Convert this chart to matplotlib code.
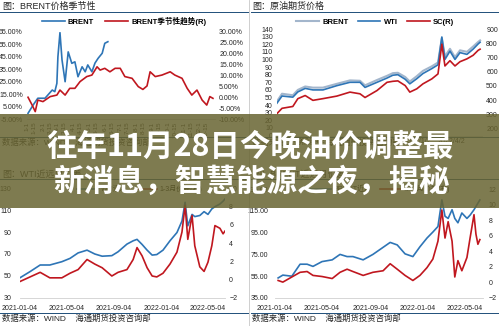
import matplotlib
matplotlib.use('Agg')
import matplotlib.pyplot as plt
import matplotlib.dates as mdates
import matplotlib.ticker as mticker
import pandas as pd
from matplotlib.patches import Rectangle

plt.rcParams['font.family'] = ['Liberation Sans', 'Noto Sans CJK SC']

W, H = 499, 326

# ---- top left: BRENT seasonality (month-day on a dummy year) ----
brent_season_md = ['01-03', '01-13', '01-22', '02-05', '02-19', '02-24', '02-28', '03-02',
                   '03-06', '03-10', '03-16', '03-22', '03-29', '04-04', '04-10', '04-18',
                   '04-24', '04-29', '05-07', '05-13', '05-19', '05-27', '06-01', '06-07']
brent_season = [-0.4, 6.3, 11.7, 11.7, 18.3, 17.0, 23.7, 45.0,
                64.5, 42.5, 25.0, 49.0, 39.8, 41.0, 29.0, 37.0,
                33.0, 38.5, 33.0, 40.0, 43.8, 47.9, 55.9, 57.2]
trend_md = ['01-03', '01-11', '01-17', '01-22', '02-01', '02-15', '02-28', '03-06', '03-16',
            '03-25', '04-04', '04-14', '04-27', '05-07', '05-17', '05-23', '06-01', '06-11',
            '06-21', '07-01', '07-10', '07-24', '08-05', '08-14', '08-22', '08-28', '09-07',
            '09-20', '10-06', '10-15', '10-29', '11-08', '11-17', '11-27', '12-07', '12-16',
            '12-22', '12-28']
trend = [0.0, -3.6, -6.6, -1.3, -2.0, 0.3, 1.0, 3.3, 1.0,
         4.1, 4.1, 7.2, 9.5, 10.2, 14.0, 12.5, 13.3, 11.7,
         13.3, 13.3, 9.5, 8.7, 4.9, 3.6, 5.2, 11.7, 9.5,
         10.2, 11.7, 10.2, 8.7, 4.1, 1.0, 3.3, -1.3, -3.6,
         0.3, -0.5]
season_ticks = ['01-01', '01-15', '02-01', '02-15', '03-01', '03-15', '04-01', '04-15',
                '05-01', '05-15', '06-01', '06-15', '07-01', '07-15', '08-01', '08-15',
                '09-01', '09-15', '10-01', '10-15', '11-01', '11-15', '12-01', '12-15']

# ---- top right: crude futures prices ----
fut_dates = ['2021-01-04', '2021-01-17', '2021-02-14', '2021-02-27', '2021-03-18', '2021-04-07',
             '2021-05-03', '2021-06-08', '2021-07-12', '2021-08-07', '2021-08-20', '2021-09-20',
             '2021-10-16', '2021-10-31', '2021-11-13', '2021-12-02', '2021-12-14', '2022-01-01',
             '2022-01-17', '2022-02-09', '2022-02-25', '2022-03-07', '2022-03-15', '2022-03-28',
             '2022-04-10', '2022-04-23', '2022-05-11', '2022-05-27', '2022-06-09', '2022-06-14']
brent_fut = [45.0, 55.0, 53.0, 60.0, 64.5, 63.0, 63.0, 68.0, 72.5, 72.0, 66.0, 73.0,
             78.5, 82.0, 82.5, 77.0, 71.0, 78.0, 85.0, 91.0, 96.0, 128.0, 104.0, 114.0,
             103.0, 112.0, 110.0, 117.0, 123.0, 125.0]
wti_fut = [42.7, 52.0, 50.5, 57.4, 62.0, 60.0, 60.0, 65.6, 70.0, 70.0, 63.3, 70.0,
           75.6, 79.3, 80.0, 74.0, 68.0, 74.7, 81.5, 88.0, 93.0, 129.5, 100.0, 111.0,
           100.0, 109.0, 106.7, 113.6, 120.4, 122.6]
sc_fut = [305, 342, 355, 410, 432, 398, 410, 428, 456, 444, 418, 467,
          525, 532, 535, 502, 456, 479, 514, 549, 584, 793, 640, 677,
          640, 670, 690, 715, 750, 758]

# ---- bottom left: WTI near/far ----
wti_dates = ['2021-01-04', '2021-01-30', '2021-02-25', '2021-03-22', '2021-04-22', '2021-05-13',
             '2021-06-03', '2021-06-26', '2021-07-16', '2021-08-04', '2021-08-29', '2021-09-14',
             '2021-10-07', '2021-10-23', '2021-11-02', '2021-11-15', '2021-11-28', '2021-12-11',
             '2021-12-23', '2022-01-08', '2022-01-26', '2022-02-13', '2022-02-26', '2022-03-06',
             '2022-03-13', '2022-03-24', '2022-03-31', '2022-04-13', '2022-04-24', '2022-05-04',
             '2022-05-14', '2022-05-22', '2022-06-04', '2022-06-12', '2022-06-17']
wti_near = [48.4, 54.0, 60.0, 60.0, 63.0, 66.0, 71.0, 73.5, 70.0, 68.0, 68.5, 72.0,
            79.0, 82.0, 83.3, 78.7, 73.5, 69.0, 69.5, 73.5, 82.0, 89.5, 100.0, 117.0,
            95.6, 106.0, 104.0, 105.0, 108.5, 106.0, 111.0, 113.0, 115.5, 118.0, 120.0]
wti_spread = [-0.2, 0.3, 0.8, 0.2, 0.2, 0.7, 1.1, 2.2, 1.7, 1.3, 0.4, 0.8,
              1.1, 2.2, 3.5, 2.6, 1.3, 0.4, 0.3, 0.7, 1.7, 3.0, 5.2, 8.1,
              4.4, 7.0, 3.7, 1.4, 0.9, 1.9, 3.7, 5.9, 5.6, 5.0, 5.3]

# ---- bottom right: BRENT near/far ----
br_dates = ['2021-01-12', '2021-01-24', '2021-02-16', '2021-03-09', '2021-03-27', '2021-04-11',
            '2021-05-04', '2021-05-30', '2021-06-19', '2021-07-07', '2021-07-22', '2021-08-17',
            '2021-09-11', '2021-10-07', '2021-10-25', '2021-11-12', '2021-12-02', '2021-12-22',
            '2022-01-09', '2022-01-27', '2022-02-11', '2022-02-24', '2022-03-06', '2022-03-14',
            '2022-03-22', '2022-04-01', '2022-04-08', '2022-04-16', '2022-04-26', '2022-05-09',
            '2022-05-17', '2022-05-27', '2022-06-01', '2022-06-06', '2022-06-11']
br_near = [53.4, 56.0, 55.0, 66.0, 66.0, 64.0, 68.4, 70.0, 75.0, 73.0, 73.0, 70.0,
           75.0, 81.5, 86.0, 83.7, 75.5, 73.0, 82.0, 90.0, 95.5, 100.6, 125.0, 110.0,
           108.0, 116.0, 108.0, 104.0, 113.0, 108.0, 111.0, 116.0, 119.0, 122.0, 125.0]
br_spread = [0.25, 0.04, 0.7, 1.3, 1.4, 0.9, 0.76, 0.5, 1.3, 1.7, 1.4, 0.9,
             1.3, 1.5, 2.4, 1.7, 0.9, 0.25, 0.9, 1.9, 3.0, 5.3, 9.3, 5.7,
             7.8, 5.3, 0.7, 2.8, 1.5, 3.2, 5.7, 8.7, 6.2, 4.9, 5.5]
spread_ticks = ['2021-01-04', '2021-05-04', '2021-09-04', '2022-01-04', '2022-05-04']

BLUE = '#2e75b6'
RED = '#c0171f'
GREY_BLUE = '#a3b6cc'
INK = '#262626'
LW = 1.2

fig = plt.figure(figsize=(W / 100, H / 100), dpi=100)


def px_axes(x0, y0, x1, y1):
    return fig.add_axes([x0 / W, 1 - y1 / H, (x1 - x0) / W, (y1 - y0) / H])


def style(ax, ax2):
    for a in (ax, ax2):
        for s in a.spines.values():
            s.set_visible(False)
        a.tick_params(length=0, labelsize=5, colors=INK, pad=3)
    ax.patch.set_alpha(0)
    ax.spines['bottom'].set_visible(True)
    ax.spines['bottom'].set_color('#d0d0d0')
    ax.spines['bottom'].set_linewidth(0.6)


def d(s):
    return pd.to_datetime(s)


# top left
ax = px_axes(27, 32, 215, 119)
ax2 = ax.twinx()
style(ax, ax2)
l1, = ax.plot(d(['2021-' + m for m in brent_season_md]), brent_season, color=BLUE, lw=LW)
l2, = ax2.plot(d(['2021-' + m for m in trend_md]), trend, color=RED, lw=LW)
ax.set_xlim(d('2021-01-01'), d('2022-01-01'))
ax.set_ylim(-5, 65)
ax.set_yticks(range(-5, 66, 10))
ax.yaxis.set_major_formatter(mticker.FormatStrFormatter('%.2f%%'))
ax2.set_ylim(-10, 30)
ax2.set_yticks(range(-10, 31, 5))
ax2.yaxis.set_major_formatter(mticker.FormatStrFormatter('%.2f%%'))
ax.set_xticks(d(['2021-' + m for m in season_ticks]))
ax.set_xticklabels([m.lstrip('0').replace('-0', '-') for m in season_ticks], rotation=90, fontsize=4.5)
ax.tick_params(axis='x', pad=2)
ax.legend([l1, l2], ['BRENT', 'BRENT季节性趋势(R)'], loc='center', ncol=2, frameon=False,
          bbox_to_anchor=(124 / W, 1 - 21 / H), bbox_transform=fig.transFigure,
          prop={'size': 5.5, 'weight': 'bold'}, handlelength=3, columnspacing=1.5, handletextpad=0.4)

# top right
ax = px_axes(277, 29, 482, 135.6)
ax2 = ax.twinx()
style(ax, ax2)
l1, = ax.plot(d(fut_dates), brent_fut, color=GREY_BLUE, lw=1.5)
l2, = ax.plot(d(fut_dates), wti_fut, color=BLUE, lw=LW)
l3, = ax2.plot(d(fut_dates), sc_fut, color=RED, lw=LW)
ax.set_xlim(d('2021-01-04'), d('2022-06-19'))
ax.set_ylim(0, 140)
ax.set_yticks(range(0, 141, 10))
ax2.set_ylim(150, 900)
ax2.set_yticks(range(200, 901, 100))
ax.set_xticks(d(['2021-04-02', '2021-07-02', '2021-10-02', '2022-01-02', '2022-04-02']))
ax.set_xticklabels(['2021/4/2', '2021/7/2', '2021/10/2', '2022/1/2', '2022/4/2'])
ax.tick_params(axis='x', pad=2)
ax.legend([l1, l2, l3], ['BRENT', 'WTI', 'SC(R)'], loc='center', ncol=3, frameon=False,
          bbox_to_anchor=(375 / W, 1 - 22 / H), bbox_transform=fig.transFigure,
          prop={'size': 5.5, 'weight': 'bold'}, handlelength=3, columnspacing=1.2, handletextpad=0.4)

# bottom left
ax = px_axes(20, 188, 225, 298)
ax2 = ax.twinx()
style(ax, ax2)
l1, = ax.plot(d(wti_dates), wti_near, color=BLUE, lw=LW)
l2, = ax2.plot(d(wti_dates), wti_spread, color=RED, lw=LW)
ax.set_xlim(d('2021-01-04'), d('2022-06-17'))
ax.set_ylim(30, 130)
ax.set_yticks(range(30, 131, 20))
ax2.set_ylim(-2, 10)
ax2.set_yticks(range(-2, 11, 2))
ax.set_xticks(d(spread_ticks))
ax.xaxis.set_major_formatter(mdates.DateFormatter('%Y-%m-%d'))
ax.tick_params(axis='x', pad=5)
ax.tick_params(axis='y', pad=6)
ax.legend([l1, l2], ['WTI近月', '1-3月价差(右)'], loc='center', ncol=2, frameon=False,
          bbox_to_anchor=(140 / W, 1 - 189 / H), bbox_transform=fig.transFigure,
          prop={'size': 5}, handlelength=3, columnspacing=1.2, handletextpad=0.4)

# bottom right
ax = px_axes(275, 189, 483, 298)
ax2 = ax.twinx()
style(ax, ax2)
l1, = ax.plot(d(br_dates), br_near, color=BLUE, lw=LW)
l2, = ax2.plot(d(br_dates), br_spread, color=RED, lw=LW)
ax.set_xlim(d('2021-01-04'), d('2022-06-19'))
ax.set_ylim(35, 135)
ax.set_yticks(range(35, 136, 20))
ax.yaxis.set_major_formatter(mticker.FormatStrFormatter('%.2f'))
ax2.set_ylim(-2, 12)
ax2.set_yticks(range(-2, 13, 2))
ax.set_xticks(d(spread_ticks))
ax.xaxis.set_major_formatter(mdates.DateFormatter('%Y-%m-%d'))
ax.tick_params(axis='x', pad=5)
ax.tick_params(axis='y', pad=5)
ax2.tick_params(axis='y', pad=4)
ax.legend([l1, l2], ['BRENT近月', '12/3月价差(右)'], loc='center', ncol=2, frameon=False,
          bbox_to_anchor=(380 / W, 1 - 189 / H), bbox_transform=fig.transFigure,
          prop={'size': 5}, handlelength=3, columnspacing=1.2, handletextpad=0.4)

# overlay in pixel coordinates: panel titles, rules, source notes, banner
ov = fig.add_axes([0, 0, 1, 1], zorder=10)
ov.set_xlim(0, W)
ov.set_ylim(H, 0)
ov.axis('off')

ov.plot([249.5, 249.5], [0, H], color='#c8c8c8', lw=0.6, zorder=1)
titles = [(2, 6, '图：BRENT价格季节性'), (252, 6, '图：原油期货价格'),
          (2, 174, '图：WTI近远月价差'), (252, 174, '图：BRENT近远月价差')]
for x, y, t in titles:
    ov.text(x, y, t, fontsize=6.5, color=INK, va='center', ha='left', zorder=1)
for y in (12, 179):
    ov.plot([0, 248], [y, y], color='#1f4e79', lw=0.7, zorder=1)
    ov.plot([251, W], [y, y], color='#1f4e79', lw=0.7, zorder=1)
for y in (137, 313):
    ov.plot([0, 248], [y, y], color='#1f4e79', lw=0.7, zorder=1)
    ov.plot([251, W], [y, y], color='#1f4e79', lw=0.7, zorder=1)
    ov.text(2, y + 6, '数据来源：WIND    海通期货投资咨询部', fontsize=6, color=INK,
            va='center', ha='left', zorder=1)
    ov.text(252, y + 6, '数据来源：WIND    海通期货投资咨询部', fontsize=6, color=INK,
            va='center', ha='left', zorder=1)

ov.add_patch(Rectangle((0, 114), W, 94, color='#686431', alpha=0.85, lw=0, zorder=5))
ov.text(250, 146, '往年11月28日今晚油价调整最', fontsize=22, fontweight='bold', color='white',
        family='Noto Sans CJK SC', ha='center', va='center', zorder=6)
ov.text(251, 182, '新消息，智慧能源之夜，揭秘', fontsize=22, fontweight='bold', color='white',
        family='Noto Sans CJK SC', ha='center', va='center', zorder=6)

fig.savefig('out.png', dpi=100)
